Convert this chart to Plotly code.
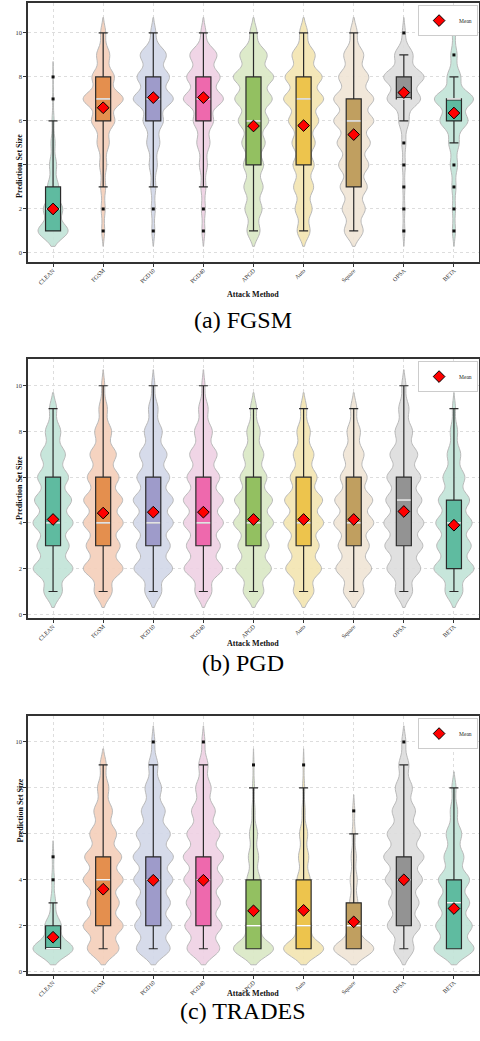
import numpy as np
import plotly.graph_objects as go

# ---------------- data ----------------
methods = ["CLEAN", "FGSM", "PGD10", "PGD40", "APGD", "Auto", "Square", "OPSA", "BETA"]
set_sizes = [1, 2, 3, 4, 5, 6, 7, 8, 9, 10]
captions = ["(a) FGSM", "(b) PGD", "(c) TRADES"]

# relative frequency of each prediction-set size (1..10), per method
counts_fgsm = [
    [60, 38, 22, 14, 8, 4, 2, 1, 0, 0],
    [3, 4, 5, 7, 12, 23, 40, 22, 13, 5],
    [3, 4, 5, 8, 13, 20, 40, 32, 26, 5],
    [3, 4, 5, 8, 13, 20, 40, 33, 27, 5],
    [13, 17, 19, 20, 23, 30, 37, 40, 27, 7],
    [13, 17, 20, 21, 23, 30, 40, 37, 23, 8],
    [19, 23, 27, 30, 33, 40, 40, 30, 20, 7],
    [2, 2, 2, 3, 4, 10, 33, 40, 18, 3],
    [3, 3, 4, 7, 10, 27, 38, 13, 6, 3],
]
counts_pgd = [
    [18, 39, 31, 39, 36, 30, 24, 15, 7, 0],
    [17, 38, 32, 38, 37, 30, 25, 16, 8, 3],
    [16, 37, 32, 38, 38, 31, 26, 17, 9, 3],
    [16, 37, 32, 38, 38, 31, 26, 17, 9, 3],
    [20, 35, 30, 39, 37, 26, 20, 13, 6, 0],
    [20, 35, 30, 39, 37, 26, 20, 13, 6, 0],
    [20, 35, 30, 39, 37, 26, 20, 13, 6, 0],
    [17, 33, 37, 39, 35, 33, 27, 17, 10, 4],
    [17, 39, 33, 35, 30, 21, 13, 7, 3, 0],
]
counts_trades = [
    [80, 32, 10, 5, 3, 0, 0, 0, 0, 0],
    [31, 39, 31, 39, 36, 26, 18, 11, 6, 0],
    [33, 36, 33, 38, 39, 33, 23, 16, 9, 3],
    [32, 36, 33, 38, 39, 32, 23, 15, 9, 3],
    [40, 15, 13, 13, 10, 8, 3, 2, 1, 0],
    [40, 15, 13, 13, 10, 8, 3, 2, 1, 0],
    [40, 13, 8, 7, 5, 3, 2, 0, 0, 0],
    [20, 33, 30, 37, 40, 33, 23, 17, 10, 4],
    [39, 35, 30, 30, 19, 15, 7, 4, 0, 0],
]

# box statistics
q1_fgsm = [1, 6, 6, 6, 4, 4, 3, 7, 6]
med_fgsm = [2, 7, 7, 7, 6, 7, 6, 7, 7]
q3_fgsm = [3, 8, 8, 8, 8, 8, 7, 8, 7]
lo_fgsm = [1, 3, 3, 3, 1, 1, 1, 6, 5]
hi_fgsm = [6, 10, 10, 10, 10, 10, 10, 9, 8]
mean_fgsm = [2.0, 6.6, 7.06, 7.06, 5.77, 5.79, 5.38, 7.29, 6.36]
out_fgsm = [[7, 8], [1, 2], [1, 2], [1, 2], [], [], [], [1, 2, 3, 4, 5, 10], [1, 2, 3, 4, 9, 10]]

q1_pgd = [3, 3, 3, 3, 3, 3, 3, 3, 2]
med_pgd = [4, 4, 4, 4, 4, 4, 4, 5, 4]
q3_pgd = [6, 6, 6, 6, 6, 6, 6, 6, 5]
lo_pgd = [1, 1, 1, 1, 1, 1, 1, 1, 1]
hi_pgd = [9, 10, 10, 10, 9, 9, 9, 10, 9]
mean_pgd = [4.15, 4.43, 4.47, 4.47, 4.15, 4.15, 4.15, 4.5, 3.9]
out_pgd = [[], [], [], [], [], [], [], [], []]

q1_trades = [1, 2, 2, 2, 1, 1, 1, 2, 1]
med_trades = [1, 4, 4, 4, 2, 2, 2, 4, 3]
q3_trades = [2, 5, 5, 5, 4, 4, 3, 5, 4]
lo_trades = [1, 1, 1, 1, 1, 1, 1, 1, 1]
hi_trades = [3, 9, 9, 9, 8, 8, 6, 9, 8]
mean_trades = [1.5, 3.59, 3.98, 3.98, 2.65, 2.67, 2.17, 4.0, 2.75]
out_trades = [[4, 5], [], [10], [10], [9], [9], [7], [10], []]

# ---------------- styles ----------------
box_colors = ["#5fbba0", "#e48f4e", "#9e9bca", "#ee69ad", "#93c061",
              "#edc44d", "#c09f60", "#939393", "#5fbba0"]
violin_colors = ["#c3e4d8", "#f5d0bb", "#d3d8e9", "#efd2e4", "#dbe9c6",
                 "#f4e6b2", "#f0e5d6", "#dedede", "#c3e4d8"]
FONT = "Liberation Serif"
W, H = 480, 1041
X0, X1 = 28, 479

panels = [
    dict(counts=counts_fgsm, q1=q1_fgsm, med=med_fgsm, q3=q3_fgsm, lo=lo_fgsm, hi=hi_fgsm,
         mean=mean_fgsm, out=out_fgsm, top=3, bot=262, yr=[-0.41, 11.36],
         vw=[0.6, 0.8, 0.8, 0.8, 0.8, 0.8, 0.8, 0.8, 0.78]),
    dict(counts=counts_pgd, q1=q1_pgd, med=med_pgd, q3=q3_pgd, lo=lo_pgd, hi=hi_pgd,
         mean=mean_pgd, out=out_pgd, top=359, bot=618, yr=[-0.16, 11.17],
         vw=[0.8] * 9),
    dict(counts=counts_trades, q1=q1_trades, med=med_trades, q3=q3_trades, lo=lo_trades,
         hi=hi_trades, mean=mean_trades, out=out_trades, top=716, bot=974,
         yr=[-0.1, 11.13], vw=[0.8] * 9),
]
caption_y = [305, 663, 1026]

fig = go.Figure()
BOXW = 0.3
pos = list(range(len(methods)))

for p, P in enumerate(panels):
    sfx = "" if p == 0 else str(p + 1)
    xa, ya = "x" + sfx, "y" + sfx
    dom = [1 - P["bot"] / H, 1 - P["top"] / H]
    # violins
    for i, m in enumerate(methods):
        samples = np.repeat(set_sizes, P["counts"][i])
        fig.add_trace(go.Violin(
            x=[i] * len(samples), y=samples, xaxis=xa, yaxis=ya, orientation="v",
            width=P["vw"][i], scalemode="width", bandwidth=0.35, spanmode="soft",
            points=False, box_visible=False, meanline_visible=False,
            fillcolor=violin_colors[i], opacity=0.92,
            line=dict(color="#b4b4b4", width=1),
            showlegend=False, hoverinfo="skip"))
    # boxes
    for i, m in enumerate(methods):
        fig.add_trace(go.Box(
            x=[i], q1=[P["q1"][i]], median=[P["med"][i]], q3=[P["q3"][i]],
            lowerfence=[P["lo"][i]], upperfence=[P["hi"][i]], xaxis=xa, yaxis=ya,
            width=BOXW, whiskerwidth=0.6, fillcolor=box_colors[i], boxpoints=False,
            line=dict(color="#2a2a2a", width=1.2), showlegend=False, hoverinfo="skip"))
    # white median lines
    mx, my = [], []
    for i in pos:
        mx += [i - BOXW / 2 + 0.012, i + BOXW / 2 - 0.012, None]
        my += [P["med"][i], P["med"][i], None]
    fig.add_trace(go.Scatter(x=mx, y=my, mode="lines", xaxis=xa, yaxis=ya,
                             line=dict(color="white", width=1.5), showlegend=False,
                             hoverinfo="skip"))
    # outliers
    ox, oy = [], []
    for i in pos:
        for v in P["out"][i]:
            ox.append(i)
            oy.append(v)
    fig.add_trace(go.Scatter(x=ox, y=oy, mode="markers", xaxis=xa, yaxis=ya,
                             marker=dict(symbol="square", size=3, color="#111"),
                             showlegend=False, hoverinfo="skip"))
    # means
    fig.add_trace(go.Scatter(x=pos, y=P["mean"], mode="markers", xaxis=xa, yaxis=ya,
                             name="Mean", legend="legend" + sfx,
                             marker=dict(symbol="diamond", size=9, color="red",
                                         line=dict(color="black", width=1))))
    axis_common = dict(showline=True, mirror=True, linecolor="#333", linewidth=1.5,
                       ticks="outside", ticklen=3, tickcolor="#333", showgrid=True,
                       gridcolor="#dddddd", griddash="dot", gridwidth=0.8, zeroline=False)
    fig.update_layout(**{
        "xaxis" + sfx: dict(domain=[X0 / W, X1 / W], anchor=ya, range=[-0.5, 8.5],
                            tickmode="array", tickvals=pos, ticktext=methods, tickangle=-45,
                            ticklabelstandoff=-2,
                            tickfont=dict(family=FONT, size=6, color="#333"),
                            **axis_common),
        "yaxis" + sfx: dict(domain=dom, anchor=xa, range=P["yr"],
                            tickvals=[0, 2, 4, 6, 8, 10],
                            tickfont=dict(family=FONT, size=6.5, color="#333"),
                            **axis_common),
        "legend" + sfx: dict(x=0.996, y=dom[1] - 0.002, xanchor="right", yanchor="top",
                             xref="paper", yref="paper", bgcolor="white",
                             bordercolor="#cccccc", borderwidth=1, itemwidth=30,
                             font=dict(family=FONT, size=5.5, color="#222"),
                             tracegroupgap=0),
    })
    # axis titles
    fig.add_annotation(text="<b>Attack Method</b>", x=(X0 + X1) / 2 / W,
                       y=1 - (P["bot"] + 25.5) / H, xref="paper", yref="paper",
                       showarrow=False, font=dict(family=FONT, size=8, color="#111"))
    fig.add_annotation(text="<b>Prediction Set Size</b>", x=13 / W,
                       y=1 - (P["top"] + P["bot"]) / 2 / H, xref="paper", yref="paper",
                       textangle=-90, showarrow=False,
                       font=dict(family=FONT, size=8, color="#111"))
    # caption
    fig.add_annotation(text=captions[p], x=243 / W, y=1 - caption_y[p] / H,
                       xref="paper", yref="paper", showarrow=False,
                       font=dict(family=FONT, size=24, color="black"))

fig.update_layout(width=W, height=H, autosize=False,
                  margin=dict(l=0, r=0, t=0, b=0),
                  paper_bgcolor="white", plot_bgcolor="white",
                  violinmode="overlay", boxmode="overlay",
                  font=dict(family=FONT))
fig.write_html("out.html", config={"displayModeBar": False},
               post_script="document.body.style.margin='0px';")
